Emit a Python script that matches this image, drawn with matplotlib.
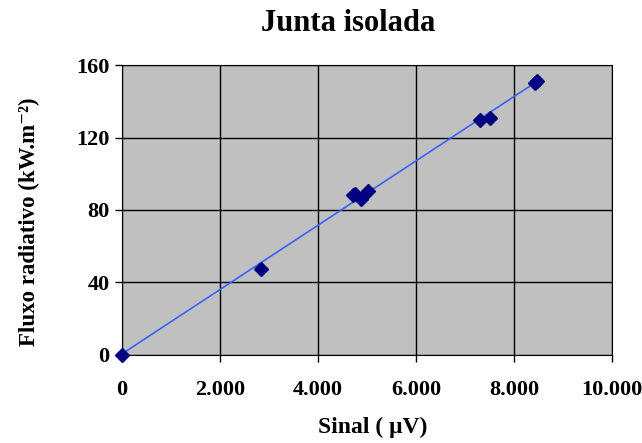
import numpy as np
import matplotlib
matplotlib.use('Agg')
import matplotlib.pyplot as plt
from matplotlib.ticker import FuncFormatter

# Data
sinal = [0, 2840, 4710, 4760, 4880, 5020, 7310, 7510, 8430, 8470]
fluxo = [0, 47.4, 88.3, 88.8, 86.0, 90.5, 129.7, 130.8, 150.4, 151.0]

x_ticks = [0, 2000, 4000, 6000, 8000, 10000]
y_ticks = [0, 40, 80, 120, 160]

plt.rcParams['font.family'] = ['Liberation Serif', 'DejaVu Serif']
plt.rcParams['font.weight'] = 'bold'

fig = plt.figure(figsize=(6.42, 4.43), dpi=100)
ax = fig.add_axes([0.19, 0.199, 0.763, 0.654])
ax.set_facecolor('#C0C0C0')

# linear trendline
coef = np.polyfit(sinal, fluxo, 1)
xl = np.array([0, max(sinal)])
ax.plot(xl, np.polyval(coef, xl), color='#3366FF', lw=1.2, zorder=3)

ax.plot(sinal, fluxo, linestyle='none', marker='D', markersize=7,
        color='#000080', zorder=4, clip_on=False)

ax.set_xlim(0, 10000)
ax.set_ylim(0, 160)
ax.set_xticks(x_ticks)
ax.set_yticks(y_ticks)
ax.xaxis.set_major_formatter(FuncFormatter(
    lambda v, p: '0' if v == 0 else '{:,.0f}'.format(v).replace(',', '.')))
ax.grid(True, color='black', lw=1)
ax.set_axisbelow(True)
ax.tick_params(direction='out', length=5, width=1, labelsize=16)
ax.tick_params(axis='x', pad=13)
ax.tick_params(axis='y', pad=4)
for s in ax.spines.values():
    s.set_color('black')

ax.set_title('Junta isolada', fontsize=22, fontweight='bold', x=0.461, y=1.114, va='center')
ax.set_xlabel('Sinal ( \u03bcV)', fontsize=17, fontweight='bold')
ax.xaxis.set_label_coords(0.512, -0.213)
ax.set_ylabel('Fluxo radiativo (kW.m\u207b\u00b2)', fontsize=16.5, fontweight='bold')
ax.yaxis.set_label_coords(-0.168, 0.459)

fig.savefig('out.png', dpi=100, facecolor='white')
